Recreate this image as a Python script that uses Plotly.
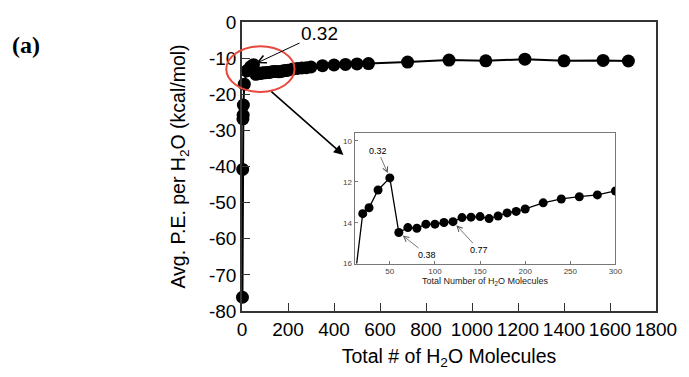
import plotly.graph_objects as go

# ---- data ----
n_waters = [2, 3, 4, 5, 6, 10, 20, 27, 37, 50, 60, 70, 80, 90, 100, 110, 120, 130,
            140, 150, 160, 170, 180, 190, 200, 220, 240, 260, 280, 300,
            350, 400, 450, 500, 550, 720, 900, 1060, 1230, 1400, 1570, 1680]
avg_pe = [-76.2, -40.8, -26.8, -25.8, -23.0, -17.2, -13.56, -13.27, -12.4, -11.81,
          -14.48, -14.24, -14.27, -14.07, -14.07, -13.99, -13.95, -13.75, -13.73,
          -13.7, -13.8, -13.67, -13.52, -13.45, -13.33, -13.03, -12.84, -12.73,
          -12.64, -12.45, -12.1, -11.9, -11.75, -11.6, -11.5, -11.1, -10.55,
          -10.75, -10.3, -10.75, -10.65, -10.8]
inset_max_n = 300
main_xticks = [0, 200, 400, 600, 800, 1000, 1200, 1400, 1600, 1800]
main_yticks = [0, -10, -20, -30, -40, -50, -60, -70, -80]
main_yticktext = ["0", "-10", "-20", "-30", "-40", "-50", "-60", "-70", "-80"]
inset_xticks = [50, 100, 150, 200, 250, 300]
inset_yticks = [-10, -12, -14, -16]
inset_yticktext = ["10", "12", "14", "16"]

inset_x = [x for x in n_waters if x <= inset_max_n]
inset_y = [y for x, y in zip(n_waters, avg_pe) if x <= inset_max_n]

FONT = "Liberation Sans, Arial, sans-serif"

fig = go.Figure()
fig.add_trace(go.Scatter(
    x=n_waters, y=avg_pe, mode="lines+markers",
    line=dict(color="black", width=2),
    marker=dict(color="black", size=13),
    xaxis="x", yaxis="y", showlegend=False, cliponaxis=False))
fig.add_trace(go.Scatter(
    x=inset_x, y=inset_y, mode="lines+markers",
    line=dict(color="black", width=1.3),
    marker=dict(color="black", size=9),
    xaxis="x2", yaxis="y2", showlegend=False, cliponaxis=True))

axis_common = dict(showgrid=False, zeroline=False, showline=True, mirror=True,
                   ticks="inside")

fig.update_layout(
    width=689, height=377,
    margin=dict(l=242, r=23, t=13, b=66),
    paper_bgcolor="white", plot_bgcolor="white",
    font=dict(family=FONT, color="black"),
    xaxis=dict(**axis_common, range=[0, 1800], tickvals=main_xticks,
               linecolor="#333", linewidth=1.5, ticklen=8, tickcolor="#333",
               tickfont=dict(size=19),
               title=dict(text="Total # of H<sub>2</sub>O Molecules",
                          font=dict(size=19.5), standoff=11)),
    yaxis=dict(**axis_common, range=[-80, 0], tickvals=main_yticks,
               ticktext=main_yticktext,
               linecolor="#333", linewidth=1.5, ticklen=8, tickcolor="#333",
               tickfont=dict(size=19),
               title=dict(text="Avg. P.E. per H<sub>2</sub>O (kcal/mol)",
                          font=dict(size=19.5), standoff=18)),
    xaxis2=dict(**axis_common, domain=[0.272, 0.902], anchor="y2",
                range=[11, 300], tickvals=inset_xticks,
                linecolor="#777", linewidth=1, ticklen=3, tickcolor="#777",
                tickfont=dict(size=8, color="#444"),
                title=dict(text="Total Number of H<sub>2</sub>O Molecules",
                           font=dict(size=9, color="#222"), standoff=2)),
    yaxis2=dict(**axis_common, domain=[0.164, 0.617], anchor="x2",
                range=[-16, -9.6], tickvals=inset_yticks, ticktext=inset_yticktext,
                linecolor="#777", linewidth=1, ticklen=3, tickcolor="#777",
                tickfont=dict(size=8, color="#444")),
)

# red ellipse highlighting the small-cluster region
fig.add_shape(type="circle", xref="paper", yref="paper",
              x0=-0.038, x1=0.127, y0=0.758, y1=0.916,
              line=dict(color="#e8483c", width=2), layer="above")

annotations = [
    # main plot 0.32 label
    dict(x=50, y=-11.8, xref="x", yref="y", text="0.32", ax=66, ay=-31,
         font=dict(size=19), showarrow=True, arrowhead=5, arrowsize=1.6,
         arrowwidth=1, arrowcolor="black", standoff=3),
    # arrow from ellipse to inset
    dict(x=0.245, y=0.540, xref="paper", yref="paper", text=" ", ax=-74, ay=-65,
         showarrow=True, arrowhead=2, arrowsize=1.2, arrowwidth=1.6,
         arrowcolor="black", font=dict(size=2)),
    # inset labels
    dict(x=50, y=-11.8, xref="x2", yref="y2", text="0.32", ax=-12, ay=-27,
         font=dict(size=9), showarrow=True, arrowhead=5, arrowsize=1.3,
         arrowwidth=0.8, arrowcolor="#555", standoff=5),
    dict(x=60, y=-14.48, xref="x2", yref="y2", text="0.38", ax=28, ay=22,
         font=dict(size=9), showarrow=True, arrowhead=5, arrowsize=1.3,
         arrowwidth=0.8, arrowcolor="#555", standoff=5),
    dict(x=120, y=-13.95, xref="x2", yref="y2", text="0.77", ax=26, ay=28,
         font=dict(size=9), showarrow=True, arrowhead=5, arrowsize=1.3,
         arrowwidth=0.8, arrowcolor="#555", standoff=5),
    # panel label
    dict(x=-0.56, y=0.92, xref="paper", yref="paper", text="<b>(a)</b>",
         xanchor="left", yanchor="middle", showarrow=False,
         font=dict(family="Liberation Serif, Times New Roman, serif", size=24)),
]
fig.update_layout(annotations=annotations)

fig.write_html("out.html")
